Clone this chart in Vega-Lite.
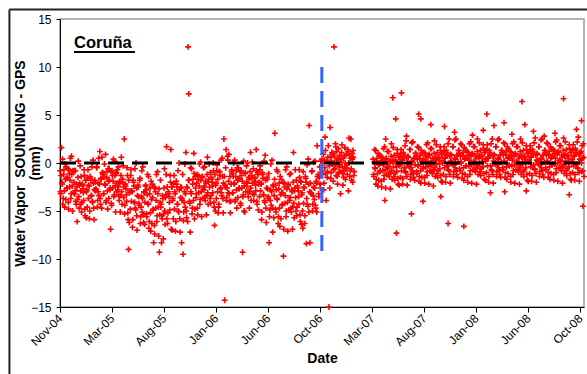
{
"$schema": "https://vega.github.io/schema/vega-lite/v6.json",
"width": 524, "height": 288,
"autosize": {"type": "none"},
"padding": {"left": 60, "top": 19, "right": 3, "bottom": 67},
"background": "white",
"config": {"font": "Liberation Sans", "view": {"stroke": "#9a9a9a", "strokeWidth": 1.5}},
"datasets": {"one": [{}], "pts": [
{"d":0,"v":-0.8},{"d":2,"v":-3.2},{"d":4,"v":1.6},{"d":6,"v":-2.2},{"d":8,"v":-4.3},{"d":10,"v":-1.2},{"d":12,"v":-2.9},{"d":14,"v":-0.1},{"d":16,"v":-3.8},{"d":18,"v":-1.6},
{"d":20,"v":-2.6},{"d":22,"v":-0.6},{"d":24,"v":-4.8},{"d":26,"v":-1.1},{"d":28,"v":-1.8},{"d":30,"v":-3.7},{"d":32,"v":0.7},{"d":34,"v":-2.4},{"d":36,"v":-0.8},{"d":38,"v":-3.1},
{"d":40,"v":-0.8},{"d":42,"v":-2.9},{"d":44,"v":-4.0},{"d":46,"v":-2.2},{"d":48,"v":-6.1},{"d":50,"v":-1.5},{"d":52,"v":-3.5},{"d":54,"v":-2.3},{"d":56,"v":-0.3},{"d":58,"v":-4.3},
{"d":60,"v":-5.1},{"d":62,"v":-2.2},{"d":64,"v":-2.7},{"d":66,"v":-3.9},{"d":68,"v":-1.3},{"d":70,"v":-5.5},{"d":72,"v":-1.8},{"d":74,"v":-3.0},{"d":76,"v":-4.6},{"d":78,"v":-0.7},
{"d":80,"v":-2.3},{"d":82,"v":-5.8},{"d":84,"v":-1.4},{"d":86,"v":-1.8},{"d":88,"v":-3.4},{"d":90,"v":-4.0},{"d":92,"v":0.3},{"d":94,"v":-4.7},{"d":96,"v":-2.8},{"d":98,"v":-2.0},
{"d":100,"v":-2.7},{"d":102,"v":-0.5},{"d":104,"v":-4.6},{"d":106,"v":-3.0},{"d":108,"v":0.5},{"d":110,"v":-2.2},{"d":112,"v":-3.7},{"d":114,"v":-1.6},{"d":116,"v":-4.7},{"d":118,"v":-1.0},
{"d":111,"v":1.2},{"d":117,"v":0.6},{"d":127,"v":0.9},
{"d":120,"v":-1.2},{"d":122,"v":-3.2},{"d":124,"v":-0.1},{"d":126,"v":-2.3},{"d":128,"v":-4.1},{"d":130,"v":-1.5},{"d":132,"v":-2.9},{"d":134,"v":-0.6},{"d":136,"v":-3.7},{"d":138,"v":-1.8},
{"d":141,"v":-6.9},
{"d":140,"v":-2.6},{"d":142,"v":-0.9},{"d":144,"v":-4.4},{"d":146,"v":-1.3},{"d":148,"v":-1.9},{"d":150,"v":-3.5},{"d":152,"v":0.2},{"d":154,"v":-2.4},{"d":156,"v":-1.1},{"d":158,"v":-3.0},
{"d":160,"v":-0.7},{"d":162,"v":-2.5},{"d":164,"v":-3.4},{"d":166,"v":-1.9},{"d":168,"v":-5.1},{"d":170,"v":-1.3},{"d":172,"v":-3.0},{"d":174,"v":-2.0},{"d":176,"v":-0.3},{"d":178,"v":-3.6},
{"d":179,"v":2.5},
{"d":180,"v":-5.3},{"d":182,"v":-2.2},{"d":184,"v":-2.7},{"d":186,"v":-4.0},{"d":188,"v":-1.3},{"d":190,"v":-5.9},{"d":192,"v":-1.8},{"d":194,"v":-3.1},{"d":196,"v":-4.8},{"d":198,"v":-0.7},
{"d":191,"v":-9.0},
{"d":200,"v":-2.9},{"d":202,"v":-6.7},{"d":204,"v":-1.8},{"d":206,"v":-2.4},{"d":208,"v":-4.1},{"d":210,"v":-4.7},{"d":212,"v":0.0},{"d":214,"v":-5.5},{"d":216,"v":-3.4},{"d":218,"v":-2.5},
{"d":220,"v":-4.2},{"d":222,"v":-1.8},{"d":224,"v":-6.3},{"d":226,"v":-4.6},{"d":228,"v":-0.8},{"d":230,"v":-3.7},{"d":232,"v":-5.4},{"d":234,"v":-3.0},{"d":236,"v":-6.4},{"d":238,"v":-2.4},
{"d":240,"v":-2.8},{"d":242,"v":-5.6},{"d":244,"v":-1.2},{"d":246,"v":-4.3},{"d":248,"v":-6.8},{"d":250,"v":-3.2},{"d":252,"v":-5.2},{"d":254,"v":-1.9},{"d":256,"v":-6.3},{"d":258,"v":-3.6},
{"d":260,"v":-4.8},{"d":262,"v":-2.5},{"d":264,"v":-7.4},{"d":266,"v":-3.0},{"d":268,"v":-3.9},{"d":270,"v":-6.1},{"d":272,"v":-0.9},{"d":274,"v":-4.6},{"d":276,"v":-2.7},{"d":278,"v":-5.4},
{"d":261,"v":-8.3},{"d":277,"v":-9.3},{"d":283,"v":-8.3},
{"d":280,"v":-1.8},{"d":282,"v":-4.3},{"d":284,"v":-5.5},{"d":286,"v":-3.4},{"d":288,"v":-7.9},{"d":290,"v":-2.6},{"d":292,"v":-5.0},{"d":294,"v":-3.6},{"d":296,"v":-1.2},{"d":298,"v":-5.8},
{"d":297,"v":1.7},
{"d":300,"v":-6.3},{"d":302,"v":-3.0},{"d":304,"v":-3.5},{"d":306,"v":-4.9},{"d":308,"v":-2.0},{"d":310,"v":-6.9},{"d":312,"v":-2.5},{"d":314,"v":-3.9},{"d":316,"v":-5.8},{"d":318,"v":-1.3},
{"d":309,"v":1.4},
{"d":320,"v":-3.0},{"d":322,"v":-7.1},{"d":324,"v":-1.9},{"d":326,"v":-2.5},{"d":328,"v":-4.3},{"d":330,"v":-5.0},{"d":332,"v":0.0},{"d":334,"v":-5.8},{"d":336,"v":-3.6},{"d":338,"v":-2.6},
{"d":340,"v":-3.7},{"d":342,"v":-1.2},{"d":344,"v":-6.0},{"d":346,"v":-4.1},{"d":348,"v":-0.1},{"d":350,"v":-3.2},{"d":352,"v":-5.0},{"d":354,"v":-2.5},{"d":356,"v":-6.1},{"d":358,"v":-1.8},
{"d":339,"v":-8.3},{"d":343,"v":-9.5},{"d":357,"v":12.1},{"d":359,"v":7.2},{"d":351,"v":1.1},{"d":373,"v":1.0},
{"d":360,"v":-1.8},{"d":362,"v":-4.2},{"d":364,"v":-0.5},{"d":366,"v":-3.2},{"d":368,"v":-5.3},{"d":370,"v":-2.2},{"d":372,"v":-3.9},{"d":374,"v":-1.1},{"d":376,"v":-4.8},{"d":378,"v":-2.6},
{"d":363,"v":-7.2},{"d":375,"v":-5.8},
{"d":380,"v":-3.2},{"d":382,"v":-1.2},{"d":384,"v":-5.4},{"d":386,"v":-1.7},{"d":388,"v":-2.4},{"d":390,"v":-4.3},{"d":392,"v":0.1},{"d":394,"v":-3.0},{"d":396,"v":-1.4},{"d":398,"v":-3.7},
{"d":400,"v":-0.5},{"d":402,"v":-2.5},{"d":404,"v":-3.5},{"d":406,"v":-1.9},{"d":408,"v":-5.4},{"d":410,"v":-1.2},{"d":412,"v":-3.1},{"d":414,"v":-2.0},{"d":416,"v":-0.1},{"d":418,"v":-3.7},
{"d":420,"v":-4.2},{"d":422,"v":-1.5},{"d":424,"v":-2.0},{"d":426,"v":-3.1},{"d":428,"v":-0.8},{"d":430,"v":-4.6},{"d":432,"v":-1.2},{"d":434,"v":-2.3},{"d":436,"v":-3.7},{"d":438,"v":-0.2},
{"d":431,"v":-6.5},{"d":441,"v":-5.2},
{"d":440,"v":-1.7},{"d":442,"v":-4.6},{"d":444,"v":-0.9},{"d":446,"v":-1.3},{"d":448,"v":-2.6},{"d":450,"v":-3.1},{"d":452,"v":0.5},{"d":454,"v":-3.7},{"d":456,"v":-2.1},{"d":458,"v":-1.4},
{"d":459,"v":-14.3},{"d":457,"v":2.5},{"d":463,"v":1.4},{"d":467,"v":0.7},
{"d":460,"v":-2.3},{"d":462,"v":-0.5},{"d":464,"v":-3.9},{"d":466,"v":-2.6},{"d":468,"v":0.3},{"d":470,"v":-1.9},{"d":472,"v":-3.2},{"d":474,"v":-1.4},{"d":476,"v":-4.0},{"d":478,"v":-0.9},
{"d":475,"v":-5.2},
{"d":480,"v":-1.1},{"d":482,"v":-3.1},{"d":484,"v":0.0},{"d":486,"v":-2.2},{"d":488,"v":-4.0},{"d":490,"v":-1.4},{"d":492,"v":-2.8},{"d":494,"v":-0.5},{"d":496,"v":-3.6},{"d":498,"v":-1.7},
{"d":500,"v":-2.6},{"d":502,"v":-0.9},{"d":504,"v":-4.4},{"d":506,"v":-1.3},{"d":508,"v":-1.9},{"d":510,"v":-3.5},{"d":512,"v":0.2},{"d":514,"v":-2.4},{"d":516,"v":-1.1},{"d":518,"v":-3.0},
{"d":509,"v":-9.3},{"d":513,"v":-5.0},{"d":531,"v":1.1},
{"d":520,"v":-0.3},{"d":522,"v":-2.1},{"d":524,"v":-3.0},{"d":526,"v":-1.5},{"d":528,"v":-4.7},{"d":530,"v":-0.9},{"d":532,"v":-2.6},{"d":534,"v":-1.6},{"d":536,"v":0.1},{"d":538,"v":-3.2},
{"d":540,"v":-3.9},{"d":542,"v":-1.5},{"d":544,"v":-1.9},{"d":546,"v":-2.9},{"d":548,"v":-0.8},{"d":550,"v":-4.3},{"d":552,"v":-1.2},{"d":554,"v":-2.2},{"d":556,"v":-3.5},{"d":558,"v":-0.3},
{"d":547,"v":1.4},
{"d":560,"v":-2.1},{"d":562,"v":-5.9},{"d":564,"v":-1.0},{"d":566,"v":-1.6},{"d":568,"v":-3.3},{"d":570,"v":-3.9},{"d":572,"v":0.8},{"d":574,"v":-4.7},{"d":576,"v":-2.6},{"d":578,"v":-1.7},
{"d":580,"v":-3.5},{"d":582,"v":-1.1},{"d":584,"v":-5.6},{"d":586,"v":-3.9},{"d":588,"v":-0.1},{"d":590,"v":-3.0},{"d":592,"v":-4.7},{"d":594,"v":-2.3},{"d":596,"v":-5.7},{"d":598,"v":-1.7},
{"d":583,"v":-8.3},{"d":593,"v":-7.2},{"d":599,"v":3.1},
{"d":600,"v":-2.3},{"d":602,"v":-5.1},{"d":604,"v":-0.7},{"d":606,"v":-3.8},{"d":608,"v":-6.3},{"d":610,"v":-2.7},{"d":612,"v":-4.7},{"d":614,"v":-1.4},{"d":616,"v":-5.8},{"d":618,"v":-3.1},
{"d":620,"v":-4.3},{"d":622,"v":-2.0},{"d":624,"v":-6.9},{"d":626,"v":-2.5},{"d":628,"v":-3.4},{"d":630,"v":-5.6},{"d":632,"v":-0.4},{"d":634,"v":-4.1},{"d":636,"v":-2.2},{"d":638,"v":-4.9},
{"d":623,"v":-9.7},
{"d":640,"v":-1.2},{"d":642,"v":-3.6},{"d":644,"v":-4.7},{"d":646,"v":-2.8},{"d":648,"v":-6.9},{"d":650,"v":-2.0},{"d":652,"v":-4.2},{"d":654,"v":-2.9},{"d":656,"v":-0.7},{"d":658,"v":-5.0},
{"d":651,"v":1.1},
{"d":660,"v":-5.5},{"d":662,"v":-2.4},{"d":664,"v":-2.9},{"d":666,"v":-4.3},{"d":668,"v":-1.5},{"d":670,"v":-6.1},{"d":672,"v":-2.0},{"d":674,"v":-3.3},{"d":676,"v":-5.0},{"d":678,"v":-0.9},
{"d":677,"v":-6.8},{"d":687,"v":-8.4},{"d":697,"v":-8.3},{"d":695,"v":3.9},
{"d":680,"v":-2.5},{"d":682,"v":-6.3},{"d":684,"v":-1.4},{"d":686,"v":-2.0},{"d":688,"v":-3.7},{"d":690,"v":-4.3},{"d":692,"v":0.4},{"d":694,"v":-5.1},{"d":696,"v":-3.0},{"d":698,"v":-2.1},
{"d":700,"v":-3.1},{"d":702,"v":-0.9},{"d":704,"v":-5.0},{"d":706,"v":-3.4},{"d":708,"v":0.1},{"d":710,"v":-2.6},{"d":712,"v":-4.4},{"d":714,"v":-1.9},{"d":716,"v":-5.1},{"d":718,"v":-1.4},
{"d":717,"v":1.8},
{"d":720,"v":-1.2},{"d":722,"v":-3.5},{"d":724,"v":-0.4},{"d":726,"v":-2.6},{"d":728,"v":-1.0},
{"d":1,"v":-3.0},{"d":3,"v":-1.3},{"d":5,"v":-2.0},{"d":7,"v":0.4},{"d":9,"v":-3.7},{"d":11,"v":-0.7},{"d":13,"v":-4.6},{"d":15,"v":-1.7},{"d":17,"v":-0.4},{"d":19,"v":-2.6},
{"d":21,"v":-1.5},{"d":23,"v":-4.1},{"d":25,"v":-0.7},{"d":27,"v":-2.5},{"d":29,"v":0.5},{"d":31,"v":-3.2},{"d":33,"v":-1.2},{"d":35,"v":-5.0},{"d":37,"v":-0.9},{"d":39,"v":-2.0},
{"d":41,"v":-3.2},{"d":43,"v":-0.8},{"d":45,"v":-4.3},{"d":47,"v":-2.5},{"d":49,"v":-3.8},{"d":51,"v":0.2},{"d":53,"v":-4.7},{"d":55,"v":-2.1},{"d":57,"v":-2.9},{"d":59,"v":-1.4},
{"d":61,"v":-4.1},{"d":63,"v":-2.4},{"d":65,"v":-3.1},{"d":67,"v":-0.7},{"d":69,"v":-4.8},{"d":71,"v":-1.8},{"d":73,"v":-5.7},{"d":75,"v":-2.8},{"d":77,"v":-1.5},{"d":79,"v":-3.7},
{"d":81,"v":-2.4},{"d":83,"v":-5.0},{"d":85,"v":-1.6},{"d":87,"v":-3.4},{"d":89,"v":-0.4},{"d":91,"v":-4.1},{"d":93,"v":-2.1},{"d":95,"v":-5.9},{"d":97,"v":-1.8},{"d":99,"v":-2.9},
{"d":101,"v":-2.8},{"d":103,"v":-0.4},{"d":105,"v":-3.9},{"d":107,"v":-2.1},{"d":109,"v":-3.4},{"d":113,"v":-4.3},{"d":115,"v":-1.7},{"d":119,"v":-1.0},
{"d":121,"v":-3.2},{"d":123,"v":-1.5},{"d":125,"v":-2.2},{"d":129,"v":-3.9},{"d":131,"v":-0.9},{"d":133,"v":-4.8},{"d":135,"v":-1.9},{"d":137,"v":-0.6},{"d":139,"v":-2.8},
{"d":143,"v":-4.2},{"d":145,"v":-0.8},{"d":147,"v":-2.6},{"d":149,"v":0.4},{"d":151,"v":-3.3},{"d":153,"v":-1.3},{"d":155,"v":-5.1},{"d":157,"v":-1.0},{"d":159,"v":-2.1},
{"d":161,"v":-2.8},{"d":163,"v":-0.4},{"d":165,"v":-3.9},{"d":167,"v":-2.1},{"d":169,"v":-3.4},{"d":171,"v":0.6},{"d":173,"v":-4.3},{"d":175,"v":-1.7},{"d":177,"v":-2.5},
{"d":181,"v":-4.4},{"d":183,"v":-2.4},{"d":185,"v":-3.3},{"d":187,"v":-0.5},{"d":189,"v":-5.2},{"d":193,"v":-6.2},{"d":195,"v":-2.9},{"d":197,"v":-1.3},{"d":199,"v":-4.0},
{"d":201,"v":-3.0},{"d":203,"v":-5.9},{"d":205,"v":-2.0},{"d":207,"v":-4.1},{"d":209,"v":-0.6},{"d":211,"v":-4.9},{"d":213,"v":-2.6},{"d":215,"v":-7.0},{"d":217,"v":-2.3},{"d":219,"v":-3.5},
{"d":221,"v":-4.4},{"d":223,"v":-1.6},{"d":225,"v":-5.6},{"d":227,"v":-3.5},{"d":229,"v":-5.1},{"d":231,"v":-0.4},{"d":233,"v":-6.2},{"d":235,"v":-3.1},{"d":237,"v":-4.1},{"d":239,"v":-2.3},
{"d":241,"v":-5.3},{"d":243,"v":-3.3},{"d":245,"v":-4.2},{"d":247,"v":-1.4},{"d":249,"v":-6.1},{"d":251,"v":-2.6},{"d":253,"v":-7.1},{"d":255,"v":-3.8},{"d":257,"v":-2.2},{"d":259,"v":-4.9},
{"d":263,"v":-6.5},{"d":265,"v":-2.6},{"d":267,"v":-4.7},{"d":269,"v":-1.2},{"d":271,"v":-5.5},{"d":273,"v":-3.2},{"d":275,"v":-7.6},{"d":279,"v":-4.1},
{"d":281,"v":-4.6},{"d":285,"v":-5.8},{"d":287,"v":-3.7},{"d":289,"v":-5.3},{"d":291,"v":-0.6},{"d":293,"v":-6.4},{"d":295,"v":-3.3},{"d":299,"v":-2.5},
{"d":301,"v":-5.2},{"d":303,"v":-3.2},{"d":305,"v":-4.1},{"d":307,"v":-1.3},{"d":311,"v":-2.5},{"d":313,"v":-7.0},{"d":315,"v":-3.7},{"d":317,"v":-2.1},{"d":319,"v":-4.8},
{"d":321,"v":-3.2},{"d":323,"v":-6.1},{"d":325,"v":-2.2},{"d":327,"v":-4.3},{"d":329,"v":-0.8},{"d":331,"v":-5.1},{"d":333,"v":-2.8},{"d":335,"v":-7.2},{"d":337,"v":-2.5},
{"d":341,"v":-3.9},{"d":345,"v":-5.1},{"d":347,"v":-3.0},{"d":349,"v":-4.6},{"d":353,"v":-5.7},{"d":355,"v":-2.6},
{"d":361,"v":-4.0},{"d":365,"v":-3.0},{"d":367,"v":-0.6},{"d":369,"v":-4.7},{"d":371,"v":-1.7},{"d":377,"v":-1.4},{"d":379,"v":-3.6},
{"d":381,"v":-2.1},{"d":383,"v":-4.7},{"d":385,"v":-1.3},{"d":387,"v":-3.1},{"d":389,"v":-0.1},{"d":391,"v":-3.8},{"d":393,"v":-1.8},{"d":395,"v":-5.6},{"d":397,"v":-1.5},{"d":399,"v":-2.6},
{"d":401,"v":-2.8},{"d":403,"v":-0.4},{"d":405,"v":-3.9},{"d":407,"v":-2.1},{"d":409,"v":-3.4},{"d":411,"v":0.6},{"d":413,"v":-4.3},{"d":415,"v":-1.7},{"d":417,"v":-2.5},{"d":419,"v":-1.0},
{"d":421,"v":-3.4},{"d":423,"v":-1.7},{"d":425,"v":-2.4},{"d":427,"v":0.0},{"d":429,"v":-4.1},{"d":433,"v":-5.0},{"d":435,"v":-2.1},{"d":437,"v":-0.8},{"d":439,"v":-3.0},
{"d":443,"v":-4.3},{"d":445,"v":-0.9},{"d":447,"v":-2.7},{"d":449,"v":0.3},{"d":451,"v":-3.4},{"d":453,"v":-1.4},{"d":455,"v":-5.2},
{"d":461,"v":-2.5},{"d":465,"v":-3.6},{"d":469,"v":-3.1},{"d":471,"v":0.9},{"d":473,"v":-4.0},{"d":477,"v":-2.2},{"d":479,"v":-0.7},
{"d":481,"v":-3.1},{"d":483,"v":-1.4},{"d":485,"v":-2.1},{"d":487,"v":0.3},{"d":489,"v":-3.8},{"d":491,"v":-0.8},{"d":493,"v":-4.7},{"d":495,"v":-1.8},{"d":497,"v":-0.5},{"d":499,"v":-2.7},
{"d":501,"v":-1.6},{"d":503,"v":-4.2},{"d":505,"v":-0.8},{"d":507,"v":-2.6},{"d":511,"v":-3.3},{"d":515,"v":-5.1},{"d":517,"v":-1.0},{"d":519,"v":-2.1},
{"d":521,"v":-2.4},{"d":523,"v":0.0},{"d":525,"v":-3.5},{"d":527,"v":-1.7},{"d":529,"v":-3.0},{"d":533,"v":-3.9},{"d":535,"v":-1.3},{"d":537,"v":-2.1},{"d":539,"v":-0.6},
{"d":541,"v":-3.3},{"d":543,"v":-1.6},{"d":545,"v":-2.3},{"d":549,"v":-4.0},{"d":551,"v":-1.0},{"d":553,"v":-4.9},{"d":555,"v":-2.0},{"d":557,"v":-0.7},{"d":559,"v":-2.9},
{"d":561,"v":-2.2},{"d":563,"v":-5.1},{"d":565,"v":-1.2},{"d":567,"v":-3.3},{"d":569,"v":0.2},{"d":571,"v":-4.1},{"d":573,"v":-1.8},{"d":575,"v":-6.2},{"d":577,"v":-1.5},{"d":579,"v":-2.7},
{"d":581,"v":-3.7},{"d":585,"v":-4.9},{"d":587,"v":-2.8},{"d":589,"v":-4.4},{"d":591,"v":0.3},{"d":595,"v":-2.4},{"d":597,"v":-3.4},
{"d":601,"v":-4.8},{"d":603,"v":-2.8},{"d":605,"v":-3.7},{"d":607,"v":-0.9},{"d":609,"v":-5.6},{"d":611,"v":-2.1},{"d":613,"v":-6.6},{"d":615,"v":-3.3},{"d":617,"v":-1.7},{"d":619,"v":-4.4},
{"d":621,"v":-3.1},{"d":625,"v":-2.1},{"d":627,"v":-4.2},{"d":629,"v":-0.7},{"d":631,"v":-5.0},{"d":633,"v":-2.7},{"d":635,"v":-7.1},{"d":637,"v":-2.4},{"d":639,"v":-3.6},
{"d":641,"v":-3.9},{"d":643,"v":-1.1},{"d":645,"v":-5.1},{"d":647,"v":-3.0},{"d":649,"v":-4.6},{"d":653,"v":-5.7},{"d":655,"v":-2.6},{"d":657,"v":-3.6},{"d":659,"v":-1.8},
{"d":661,"v":-4.6},{"d":663,"v":-2.6},{"d":665,"v":-3.5},{"d":667,"v":-0.7},{"d":669,"v":-5.4},{"d":671,"v":-1.9},{"d":673,"v":-6.4},{"d":675,"v":-3.1},{"d":679,"v":-4.2},
{"d":681,"v":-2.6},{"d":683,"v":-5.5},{"d":685,"v":-1.6},{"d":689,"v":-0.2},{"d":691,"v":-4.5},{"d":693,"v":-2.2},{"d":699,"v":-3.1},
{"d":701,"v":-3.2},{"d":703,"v":-0.8},{"d":705,"v":-4.3},{"d":707,"v":-2.5},{"d":709,"v":-3.8},{"d":711,"v":0.2},{"d":713,"v":-4.7},{"d":715,"v":-2.1},{"d":719,"v":-1.4},
{"d":721,"v":-3.2},{"d":723,"v":-1.5},{"d":725,"v":-2.2},{"d":727,"v":0.2},
{"d":730,"v":0.4},{"d":732,"v":-1.2},{"d":734,"v":0.9},{"d":736,"v":-2.1},{"d":738,"v":-0.5},{"d":739,"v":2.7},{"d":740,"v":1.3},{"d":742,"v":-3.9},{"d":744,"v":0.2},{"d":746,"v":-0.9},
{"d":748,"v":1.8},{"d":750,"v":-15.0},{"d":751,"v":-0.3},{"d":752,"v":-2.6},{"d":753,"v":3.7},{"d":754,"v":0.6},{"d":756,"v":-1.0},{"d":758,"v":1.1},{"d":760,"v":-0.1},{"d":762,"v":-1.9},
{"d":764,"v":12.1},{"d":765,"v":0.7},{"d":766,"v":-0.6},{"d":768,"v":2.0},{"d":770,"v":-1.3},{"d":772,"v":0.3},{"d":774,"v":-2.2},{"d":776,"v":1.5},{"d":778,"v":-0.4},{"d":780,"v":0.8},
{"d":782,"v":-3.2},{"d":784,"v":0.1},{"d":786,"v":1.9},{"d":788,"v":-1.1},{"d":790,"v":0.5},{"d":792,"v":-0.8},{"d":794,"v":1.6},{"d":796,"v":-1.7},{"d":798,"v":0.9},{"d":800,"v":-0.2},
{"d":802,"v":1.4},{"d":804,"v":-2.9},{"d":806,"v":2.6},{"d":808,"v":-1.4},{"d":810,"v":0.5},{"d":811,"v":2.5},{"d":812,"v":-0.6},{"d":814,"v":1.0},{"d":816,"v":-2.0},{"d":818,"v":0.6},{"d":820,"v":-0.9},
{"d":731,"v":-0.8},{"d":737,"v":0.3},{"d":745,"v":-1.5},{"d":757,"v":0.2},{"d":763,"v":-0.7},{"d":771,"v":1.2},{"d":777,"v":-1.0},{"d":783,"v":0.4},{"d":789,"v":-2.3},{"d":795,"v":0.0},
{"d":801,"v":-1.2},{"d":807,"v":0.8},{"d":813,"v":-1.8},{"d":817,"v":1.3},{"d":735,"v":-2.8},{"d":761,"v":1.0},{"d":779,"v":-0.2},{"d":799,"v":-0.5},
{"d":733,"v":0.0},{"d":741,"v":-1.1},{"d":747,"v":0.6},{"d":755,"v":-1.6},{"d":759,"v":0.9},{"d":767,"v":-0.2},{"d":769,"v":1.7},{"d":773,"v":-1.4},{"d":775,"v":0.5},{"d":781,"v":-0.9},
{"d":785,"v":1.1},{"d":787,"v":-0.4},{"d":791,"v":-1.5},{"d":793,"v":0.7},{"d":797,"v":-0.6},{"d":803,"v":1.2},{"d":805,"v":0.0},{"d":809,"v":-0.8},{"d":815,"v":0.4},{"d":819,"v":-1.3},
{"d":873,"v":0.4},{"d":875,"v":-1.4},{"d":877,"v":1.4},{"d":879,"v":-0.6},{"d":881,"v":-2.2},{"d":883,"v":0.2},{"d":885,"v":-1.1},{"d":887,"v":1.0},{"d":889,"v":-1.8},{"d":891,"v":-0.1},
{"d":893,"v":-0.8},{"d":895,"v":0.7},{"d":897,"v":-2.5},{"d":899,"v":0.3},{"d":901,"v":-0.2},{"d":903,"v":-1.7},{"d":905,"v":1.7},{"d":907,"v":-0.7},{"d":909,"v":0.5},{"d":911,"v":-1.2},
{"d":906,"v":-3.9},{"d":908,"v":2.5},
{"d":913,"v":1.2},{"d":915,"v":-0.4},{"d":917,"v":-1.2},{"d":919,"v":0.2},{"d":921,"v":-2.7},{"d":923,"v":0.7},{"d":925,"v":-0.8},{"d":927,"v":0.1},{"d":929,"v":1.6},{"d":931,"v":-1.4},
{"d":928,"v":6.8},{"d":936,"v":4.6},{"d":938,"v":-7.3},{"d":952,"v":7.3},
{"d":933,"v":-1.8},{"d":935,"v":0.3},{"d":937,"v":0.0},{"d":939,"v":-0.9},{"d":941,"v":1.0},{"d":943,"v":-2.2},{"d":945,"v":0.6},{"d":947,"v":-0.3},{"d":949,"v":-1.5},{"d":951,"v":1.4},
{"d":953,"v":0.4},{"d":955,"v":-2.2},{"d":957,"v":1.1},{"d":959,"v":0.7},{"d":961,"v":-0.5},{"d":963,"v":-0.9},{"d":965,"v":2.3},{"d":967,"v":-1.4},{"d":969,"v":0.0},{"d":971,"v":0.6},
{"d":966,"v":2.8},
{"d":973,"v":-0.3},{"d":975,"v":1.4},{"d":977,"v":-1.7},{"d":979,"v":-0.5},{"d":981,"v":2.1},{"d":983,"v":0.1},{"d":985,"v":-1.1},{"d":987,"v":0.5},{"d":989,"v":-1.8},{"d":991,"v":1.0},
{"d":980,"v":-5.3},
{"d":993,"v":0.7},{"d":995,"v":-1.1},{"d":997,"v":1.7},{"d":999,"v":-0.3},{"d":1001,"v":-1.9},{"d":1003,"v":0.5},{"d":1005,"v":-0.8},{"d":1007,"v":1.3},{"d":1009,"v":-1.5},{"d":1011,"v":0.2},
{"d":1000,"v":5.1},{"d":1006,"v":4.6},{"d":1012,"v":-4.0},
{"d":1013,"v":-0.4},{"d":1015,"v":1.1},{"d":1017,"v":-2.1},{"d":1019,"v":0.7},{"d":1021,"v":0.2},{"d":1023,"v":-1.3},{"d":1025,"v":2.1},{"d":1027,"v":-0.3},{"d":1029,"v":0.9},{"d":1031,"v":-0.8},
{"d":1033,"v":1.5},{"d":1035,"v":-0.1},{"d":1037,"v":-0.9},{"d":1039,"v":0.5},{"d":1041,"v":-2.4},{"d":1043,"v":1.0},{"d":1045,"v":-0.5},{"d":1047,"v":0.4},{"d":1049,"v":1.9},{"d":1051,"v":-1.1},
{"d":1034,"v":4.0},
{"d":1053,"v":-1.5},{"d":1055,"v":0.6},{"d":1057,"v":0.3},{"d":1059,"v":-0.6},{"d":1061,"v":1.3},{"d":1063,"v":-1.9},{"d":1065,"v":0.9},{"d":1067,"v":0.0},{"d":1069,"v":-1.2},{"d":1071,"v":1.7},
{"d":1072,"v":3.8},{"d":1062,"v":-3.5},
{"d":1073,"v":0.6},{"d":1075,"v":-2.0},{"d":1077,"v":1.3},{"d":1079,"v":0.9},{"d":1081,"v":-0.3},{"d":1083,"v":-0.7},{"d":1085,"v":2.5},{"d":1087,"v":-1.2},{"d":1089,"v":0.2},{"d":1091,"v":0.8},
{"d":1082,"v":-6.3},
{"d":1093,"v":0.0},{"d":1095,"v":1.7},{"d":1097,"v":-1.4},{"d":1099,"v":-0.2},{"d":1101,"v":2.4},{"d":1103,"v":0.4},{"d":1105,"v":-0.8},{"d":1107,"v":0.8},{"d":1109,"v":-1.5},{"d":1111,"v":1.3},
{"d":1100,"v":3.2},
{"d":1113,"v":1.0},{"d":1115,"v":-0.8},{"d":1117,"v":2.0},{"d":1119,"v":0.0},{"d":1121,"v":-1.6},{"d":1123,"v":0.8},{"d":1125,"v":-0.5},{"d":1127,"v":1.6},{"d":1129,"v":-1.2},{"d":1131,"v":0.5},
{"d":1126,"v":-6.6},
{"d":1133,"v":-0.3},{"d":1135,"v":1.2},{"d":1137,"v":-2.0},{"d":1139,"v":0.8},{"d":1141,"v":0.3},{"d":1143,"v":-1.2},{"d":1145,"v":2.2},{"d":1147,"v":-0.2},{"d":1149,"v":1.0},{"d":1151,"v":-0.7},
{"d":1150,"v":2.9},
{"d":1153,"v":1.7},{"d":1155,"v":0.1},{"d":1157,"v":-0.7},{"d":1159,"v":0.7},{"d":1161,"v":-2.2},{"d":1163,"v":1.2},{"d":1165,"v":-0.3},{"d":1167,"v":0.6},{"d":1169,"v":2.1},{"d":1171,"v":-0.9},
{"d":1173,"v":-1.3},{"d":1175,"v":0.8},{"d":1177,"v":0.5},{"d":1179,"v":-0.4},{"d":1181,"v":1.5},{"d":1183,"v":-1.7},{"d":1185,"v":1.1},{"d":1187,"v":0.2},{"d":1189,"v":-1.0},{"d":1191,"v":1.9},
{"d":1180,"v":3.4},{"d":1190,"v":5.1},
{"d":1193,"v":0.6},{"d":1195,"v":-2.0},{"d":1197,"v":1.3},{"d":1199,"v":0.9},{"d":1201,"v":-0.3},{"d":1203,"v":-0.7},{"d":1205,"v":2.5},{"d":1207,"v":-1.2},{"d":1209,"v":0.2},{"d":1211,"v":0.8},
{"d":1200,"v":-3.1},{"d":1210,"v":3.9},
{"d":1213,"v":0.0},{"d":1215,"v":1.7},{"d":1217,"v":-1.4},{"d":1219,"v":-0.2},{"d":1221,"v":2.4},{"d":1223,"v":0.4},{"d":1225,"v":-0.8},{"d":1227,"v":0.8},{"d":1229,"v":-1.5},{"d":1231,"v":1.3},
{"d":1233,"v":1.1},{"d":1235,"v":-0.7},{"d":1237,"v":2.1},{"d":1239,"v":0.1},{"d":1241,"v":-1.5},{"d":1243,"v":0.9},{"d":1245,"v":-0.4},{"d":1247,"v":1.7},{"d":1249,"v":-1.1},{"d":1251,"v":0.6},
{"d":1238,"v":4.2},{"d":1240,"v":-3.0},
{"d":1253,"v":-0.3},{"d":1255,"v":1.2},{"d":1257,"v":-2.0},{"d":1259,"v":0.8},{"d":1261,"v":0.3},{"d":1263,"v":-1.2},{"d":1265,"v":2.2},{"d":1267,"v":-0.2},{"d":1269,"v":1.0},{"d":1271,"v":-0.7},
{"d":1260,"v":3.0},
{"d":1273,"v":1.7},{"d":1275,"v":0.1},{"d":1277,"v":-0.7},{"d":1279,"v":0.7},{"d":1281,"v":-2.2},{"d":1283,"v":1.2},{"d":1285,"v":-0.3},{"d":1287,"v":0.6},{"d":1289,"v":2.1},{"d":1291,"v":-0.9},
{"d":1288,"v":6.4},{"d":1296,"v":4.0},
{"d":1293,"v":-1.4},{"d":1295,"v":0.7},{"d":1297,"v":0.4},{"d":1299,"v":-0.5},{"d":1301,"v":1.4},{"d":1303,"v":-1.8},{"d":1305,"v":1.0},{"d":1307,"v":0.1},{"d":1309,"v":-1.1},{"d":1311,"v":1.8},
{"d":1300,"v":-2.9},
{"d":1313,"v":0.7},{"d":1315,"v":-1.9},{"d":1317,"v":1.4},{"d":1319,"v":1.0},{"d":1321,"v":-0.2},{"d":1323,"v":-0.6},{"d":1325,"v":2.6},{"d":1327,"v":-1.1},{"d":1329,"v":0.3},{"d":1331,"v":0.9},
{"d":1320,"v":3.3},
{"d":1333,"v":0.0},{"d":1335,"v":1.7},{"d":1337,"v":-1.4},{"d":1339,"v":-0.2},{"d":1341,"v":2.4},{"d":1343,"v":0.4},{"d":1345,"v":-0.8},{"d":1347,"v":0.8},{"d":1349,"v":-1.5},{"d":1351,"v":1.3},
{"d":1350,"v":2.8},
{"d":1353,"v":1.1},{"d":1355,"v":-0.7},{"d":1357,"v":2.1},{"d":1359,"v":0.1},{"d":1361,"v":-1.5},{"d":1363,"v":0.9},{"d":1365,"v":-0.4},{"d":1367,"v":1.7},{"d":1369,"v":-1.1},{"d":1371,"v":0.6},
{"d":1373,"v":-0.1},{"d":1375,"v":1.4},{"d":1377,"v":-1.8},{"d":1379,"v":1.0},{"d":1381,"v":0.5},{"d":1383,"v":-1.0},{"d":1385,"v":2.4},{"d":1387,"v":0.0},{"d":1389,"v":1.2},{"d":1391,"v":-0.5},
{"d":1380,"v":3.1},
{"d":1393,"v":1.8},{"d":1395,"v":0.2},{"d":1397,"v":-0.6},{"d":1399,"v":0.8},{"d":1401,"v":-2.1},{"d":1403,"v":1.3},{"d":1405,"v":-0.2},{"d":1407,"v":0.7},{"d":1409,"v":2.2},{"d":1411,"v":-0.8},
{"d":1404,"v":6.7},
{"d":1413,"v":-1.3},{"d":1415,"v":0.8},{"d":1417,"v":0.5},{"d":1419,"v":-0.4},{"d":1421,"v":1.5},{"d":1423,"v":-1.7},{"d":1425,"v":1.1},{"d":1427,"v":0.2},{"d":1429,"v":-1.0},{"d":1431,"v":1.9},
{"d":1420,"v":-3.3},
{"d":1433,"v":0.8},{"d":1435,"v":-1.8},{"d":1437,"v":1.5},{"d":1439,"v":1.1},{"d":1441,"v":-0.1},{"d":1443,"v":-0.5},{"d":1445,"v":2.7},{"d":1447,"v":-1.0},{"d":1449,"v":0.4},{"d":1451,"v":1.0},
{"d":1440,"v":3.5},
{"d":1453,"v":1.2},{"d":1455,"v":-0.9},{"d":1457,"v":0.5},{"d":1459,"v":2.0},{"d":1461,"v":-1.4},
{"d":1458,"v":-4.5},{"d":1454,"v":4.4},
{"d":874,"v":-1.2},{"d":876,"v":0.1},{"d":878,"v":-0.5},{"d":880,"v":1.3},{"d":882,"v":-1.7},{"d":884,"v":0.5},{"d":886,"v":-2.4},{"d":888,"v":-0.2},{"d":890,"v":0.8},{"d":892,"v":-0.9},
{"d":894,"v":0.0},{"d":896,"v":-1.9},{"d":898,"v":0.6},{"d":900,"v":-0.8},{"d":902,"v":1.5},{"d":904,"v":-1.3},{"d":906,"v":0.2},{"d":908,"v":-2.6},{"d":910,"v":0.4},{"d":912,"v":-0.4},
{"d":914,"v":-0.6},{"d":916,"v":1.2},{"d":918,"v":-1.4},{"d":920,"v":0.0},{"d":922,"v":-1.0},{"d":924,"v":2.0},{"d":926,"v":-1.7},{"d":928,"v":0.3},{"d":930,"v":-0.4},{"d":932,"v":0.8},
{"d":934,"v":-1.1},{"d":936,"v":0.2},{"d":938,"v":-0.4},{"d":940,"v":1.4},{"d":942,"v":-1.6},{"d":944,"v":0.6},{"d":946,"v":-2.3},{"d":948,"v":-0.1},{"d":950,"v":0.9},{"d":952,"v":-0.8},
{"d":954,"v":0.3},{"d":956,"v":-1.6},{"d":958,"v":0.9},{"d":960,"v":-0.5},{"d":962,"v":1.8},{"d":964,"v":-1.0},{"d":966,"v":0.5},{"d":968,"v":-2.3},{"d":970,"v":0.7},{"d":972,"v":-0.1},
{"d":974,"v":-0.4},{"d":976,"v":1.4},{"d":978,"v":-1.2},{"d":980,"v":0.2},{"d":982,"v":-0.8},{"d":984,"v":2.2},{"d":986,"v":-1.5},{"d":988,"v":0.5},{"d":990,"v":-0.2},{"d":992,"v":1.0},
{"d":994,"v":-0.9},{"d":996,"v":0.4},{"d":998,"v":-0.2},{"d":1000,"v":1.6},{"d":1002,"v":-1.4},{"d":1004,"v":0.8},{"d":1006,"v":-2.1},{"d":1008,"v":0.1},{"d":1010,"v":1.1},{"d":1012,"v":-0.6},
{"d":1014,"v":0.4},{"d":1016,"v":-1.5},{"d":1018,"v":1.0},{"d":1020,"v":-0.4},{"d":1022,"v":1.9},{"d":1024,"v":-0.9},{"d":1026,"v":0.6},{"d":1028,"v":-2.2},{"d":1030,"v":0.8},{"d":1032,"v":0.0},
{"d":1034,"v":-0.3},{"d":1036,"v":1.5},{"d":1038,"v":-1.1},{"d":1040,"v":0.3},{"d":1042,"v":-0.7},{"d":1044,"v":2.3},{"d":1046,"v":-1.4},{"d":1048,"v":0.6},{"d":1050,"v":-0.1},{"d":1052,"v":1.1},
{"d":1054,"v":-0.8},{"d":1056,"v":0.5},{"d":1058,"v":-0.1},{"d":1060,"v":1.7},{"d":1062,"v":-1.3},{"d":1064,"v":0.9},{"d":1066,"v":-2.0},{"d":1068,"v":0.2},{"d":1070,"v":1.2},{"d":1072,"v":-0.5},
{"d":1074,"v":0.5},{"d":1076,"v":-1.4},{"d":1078,"v":1.1},{"d":1080,"v":-0.3},{"d":1082,"v":2.0},{"d":1084,"v":-0.8},{"d":1086,"v":0.7},{"d":1088,"v":-2.1},{"d":1090,"v":0.9},{"d":1092,"v":0.1},
{"d":1094,"v":-0.1},{"d":1096,"v":1.7},{"d":1098,"v":-0.9},{"d":1100,"v":0.5},{"d":1102,"v":-0.5},{"d":1104,"v":2.5},{"d":1106,"v":-1.2},{"d":1108,"v":0.8},{"d":1110,"v":0.1},{"d":1112,"v":1.3},
{"d":1114,"v":-0.6},{"d":1116,"v":0.7},{"d":1118,"v":0.1},{"d":1120,"v":1.9},{"d":1122,"v":-1.1},{"d":1124,"v":1.1},{"d":1126,"v":-1.8},{"d":1128,"v":0.4},{"d":1130,"v":1.4},{"d":1132,"v":-0.3},
{"d":1134,"v":0.5},{"d":1136,"v":-1.4},{"d":1138,"v":1.1},{"d":1140,"v":-0.3},{"d":1142,"v":2.0},{"d":1144,"v":-0.8},{"d":1146,"v":0.7},{"d":1148,"v":-2.1},{"d":1150,"v":0.9},{"d":1152,"v":0.1},
{"d":1154,"v":-0.1},{"d":1156,"v":1.7},{"d":1158,"v":-0.9},{"d":1160,"v":0.5},{"d":1162,"v":-0.5},{"d":1164,"v":2.5},{"d":1166,"v":-1.2},{"d":1168,"v":0.8},{"d":1170,"v":0.1},{"d":1172,"v":1.3},
{"d":1174,"v":-0.6},{"d":1176,"v":0.7},{"d":1178,"v":0.1},{"d":1180,"v":1.9},{"d":1182,"v":-1.1},{"d":1184,"v":1.1},{"d":1186,"v":-1.8},{"d":1188,"v":0.4},{"d":1190,"v":1.4},{"d":1192,"v":-0.3},
{"d":1194,"v":0.5},{"d":1196,"v":-1.4},{"d":1198,"v":1.1},{"d":1200,"v":-0.3},{"d":1202,"v":2.0},{"d":1204,"v":-0.8},{"d":1206,"v":0.7},{"d":1208,"v":-2.1},{"d":1210,"v":0.9},{"d":1212,"v":0.1},
{"d":1214,"v":-0.1},{"d":1216,"v":1.7},{"d":1218,"v":-0.9},{"d":1220,"v":0.5},{"d":1222,"v":-0.5},{"d":1224,"v":2.5},{"d":1226,"v":-1.2},{"d":1228,"v":0.8},{"d":1230,"v":0.1},{"d":1232,"v":1.3},
{"d":1234,"v":-0.5},{"d":1236,"v":0.8},{"d":1238,"v":0.2},{"d":1240,"v":2.0},{"d":1242,"v":-1.0},{"d":1244,"v":1.2},{"d":1246,"v":-1.7},{"d":1248,"v":0.5},{"d":1250,"v":1.5},{"d":1252,"v":-0.2},
{"d":1254,"v":0.5},{"d":1256,"v":-1.4},{"d":1258,"v":1.1},{"d":1260,"v":-0.3},{"d":1262,"v":2.0},{"d":1264,"v":-0.8},{"d":1266,"v":0.7},{"d":1268,"v":-2.1},{"d":1270,"v":0.9},{"d":1272,"v":0.1},
{"d":1274,"v":-0.1},{"d":1276,"v":1.7},{"d":1278,"v":-0.9},{"d":1280,"v":0.5},{"d":1282,"v":-0.5},{"d":1284,"v":2.5},{"d":1286,"v":-1.2},{"d":1288,"v":0.8},{"d":1290,"v":0.1},{"d":1292,"v":1.3},
{"d":1294,"v":-0.7},{"d":1296,"v":0.6},{"d":1298,"v":0.0},{"d":1300,"v":1.8},{"d":1302,"v":-1.2},{"d":1304,"v":1.0},{"d":1306,"v":-1.9},{"d":1308,"v":0.3},{"d":1310,"v":1.3},{"d":1312,"v":-0.4},
{"d":1314,"v":0.6},{"d":1316,"v":-1.3},{"d":1318,"v":1.2},{"d":1320,"v":-0.2},{"d":1322,"v":2.1},{"d":1324,"v":-0.7},{"d":1326,"v":0.8},{"d":1328,"v":-2.0},{"d":1330,"v":1.0},{"d":1332,"v":0.2},
{"d":1334,"v":-0.1},{"d":1336,"v":1.7},{"d":1338,"v":-0.9},{"d":1340,"v":0.5},{"d":1342,"v":-0.5},{"d":1344,"v":2.5},{"d":1346,"v":-1.2},{"d":1348,"v":0.8},{"d":1350,"v":0.1},{"d":1352,"v":1.3},
{"d":1354,"v":-0.5},{"d":1356,"v":0.8},{"d":1358,"v":0.2},{"d":1360,"v":2.0},{"d":1362,"v":-1.0},{"d":1364,"v":1.2},{"d":1366,"v":-1.7},{"d":1368,"v":0.5},{"d":1370,"v":1.5},{"d":1372,"v":-0.2},
{"d":1374,"v":0.7},{"d":1376,"v":-1.2},{"d":1378,"v":1.3},{"d":1380,"v":-0.1},{"d":1382,"v":2.2},{"d":1384,"v":-0.6},{"d":1386,"v":0.9},{"d":1388,"v":-1.9},{"d":1390,"v":1.1},{"d":1392,"v":0.3},
{"d":1394,"v":0.0},{"d":1396,"v":1.8},{"d":1398,"v":-0.8},{"d":1400,"v":0.6},{"d":1402,"v":-0.4},{"d":1404,"v":2.6},{"d":1406,"v":-1.1},{"d":1408,"v":0.9},{"d":1410,"v":0.2},{"d":1412,"v":1.4},
{"d":1414,"v":-0.6},{"d":1416,"v":0.7},{"d":1418,"v":0.1},{"d":1420,"v":1.9},{"d":1422,"v":-1.1},{"d":1424,"v":1.1},{"d":1426,"v":-1.8},{"d":1428,"v":0.4},{"d":1430,"v":1.4},{"d":1432,"v":-0.3},
{"d":1434,"v":0.7},{"d":1436,"v":-1.2},{"d":1438,"v":1.3},{"d":1440,"v":-0.1},{"d":1442,"v":2.2},{"d":1444,"v":-0.6},{"d":1446,"v":0.9},{"d":1448,"v":-1.9},{"d":1450,"v":1.1},{"d":1452,"v":0.3},
{"d":1454,"v":0.0},{"d":1456,"v":1.8},{"d":1458,"v":-0.8},{"d":1460,"v":0.6}
]},
"layer": [
{
"data": {"name": "pts"},
"mark": {"type": "point", "shape": "M-1,0L1,0M0,-1L0,1", "size": 34, "filled": false, "color": "#ff0000", "strokeWidth": 1.6, "opacity": 1},
"encoding": {
"x": {"field": "d", "type": "quantitative",
 "scale": {"domain": [0, 1461], "nice": false, "zero": false},
 "axis": {"values": [0,145,290,435,580,725,870,1015,1160,1305,1450],
  "labelExpr": "timeFormat(datetime(2004,10,5+datum.value),'%b-%y')",
  "labelAngle": -45, "labelAlign": "right", "labelBaseline": "middle", "labelPadding": 4,
  "labelFontSize": 12, "labelColor": "black", "tickSize": 5, "tickColor": "black", "domainColor": "black",
  "grid": false, "title": "Date", "titleFontSize": 14, "titleFontWeight": "bold", "titleColor": "black", "titlePadding": 4}},
"y": {"field": "v", "type": "quantitative",
 "scale": {"domain": [-15, 15], "nice": false, "zero": false},
 "axis": {"values": [-15,-10,-5,0,5,10,15], "labelFontSize": 12, "labelColor": "black", "labelPadding": 5,
  "tickSize": 4, "tickColor": "black", "domainColor": "black", "grid": false,
  "title": ["Water Vapor\u00a0\u00a0SOUNDING - GPS", "(mm)"], "titleFontSize": 14, "titleFontWeight": "bold",
  "titleColor": "black", "titleLineHeight": 15, "titlePadding": -12}}
}
},
{
"data": {"name": "one"},
"mark": {"type": "rule", "color": "black", "strokeWidth": 3, "strokeDash": [16, 8]},
"encoding": {"x": {"datum": 0}, "x2": {"datum": 1461}, "y": {"datum": 0}}
},
{
"data": {"name": "one"},
"mark": {"type": "rule", "color": "#3366ff", "strokeWidth": 3, "strokeDash": [16, 8]},
"encoding": {"x": {"datum": 730}, "y": {"datum": 10}, "y2": {"datum": -10}}
},
{
"data": {"name": "one"},
"mark": {"type": "text", "text": "Coruña", "align": "left", "baseline": "alphabetic", "fontSize": 16.5, "fontWeight": "bold", "color": "black"},
"encoding": {"x": {"datum": 39}, "y": {"datum": 12}}
},
{
"data": {"name": "one"},
"mark": {"type": "rule", "color": "black", "strokeWidth": 2},
"encoding": {"x": {"datum": 39}, "x2": {"datum": 209}, "y": {"datum": 11.55}}
},
{
"data": {"name": "one"},
"mark": {"type": "rule", "color": "#222222", "strokeWidth": 2},
"encoding": {"x": {"datum": -141}, "y": {"datum": 16}, "y2": {"datum": -28}}
},
{
"data": {"name": "one"},
"mark": {"type": "rule", "color": "#222222", "strokeWidth": 2},
"encoding": {"x": {"datum": -141}, "x2": {"datum": 1700}, "y": {"datum": 16}}
}
]
}
